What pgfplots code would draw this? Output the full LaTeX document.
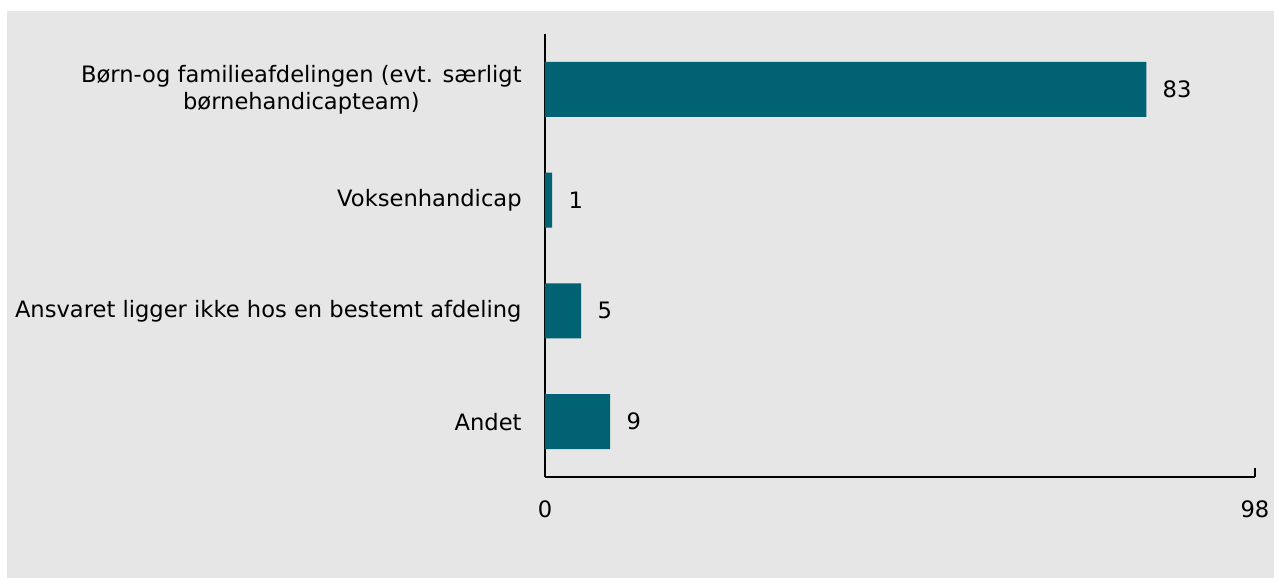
\documentclass[border=0pt]{standalone}
\usepackage{fontspec}
\setmainfont{DejaVu Sans}
\usepackage{pgfplots}
\pgfplotsset{compat=1.18}
\definecolor{barteal}{HTML}{006272}
\definecolor{bggray}{HTML}{E6E6E6}
\begin{document}
\fontsize{11.3pt}{13.5pt}\selectfont
\begin{tikzpicture}
\path[use as bounding box, fill=white] (-272.5pt,-50.5pt) rectangle (364.5pt,238.5pt);
\fill[bggray] (-269pt,-50.5pt) rectangle (364.5pt,233pt);
\begin{axis}[
  at={(0,0)}, anchor=south west,
  scale only axis,
  width=355pt, height=221.5pt,
  xbar,
  xmin=0, xmax=98,
  ymin=-0.5, ymax=3.5,
  bar width=27.5pt,
  axis x line*=bottom,
  axis y line*=left,
  axis line style={black, line width=0.6pt},
  xtick={0,98},
  ytick={0,1,2,3},
  yticklabels={Andet, Ansvaret ligger ikke hos en bestemt afdeling, Voksenhandicap, {Børn-og familieafdelingen (evt. særligt\\børnehandicapteam)}},
  y tick style={draw=none},
  x tick style={black, line width=0.6pt},
  tick align=inside,
  major tick length=4.5pt,
  yticklabel style={align=center, anchor=east, inner sep=0pt, xshift=-11.5pt, font=\fontsize{11.3pt}{13.5pt}\selectfont},
  xticklabel style={anchor=north, inner sep=0pt, yshift=-11.5pt, font=\fontsize{11.3pt}{13.5pt}\selectfont},
  /pgf/number format/assume math mode=true,
  nodes near coords,
  nodes near coords style={anchor=west, inner sep=0pt, xshift=8pt, font=\fontsize{11.3pt}{13.5pt}\selectfont, black},
  clip=false,
]
\addplot[fill=barteal, draw=none] coordinates {(9,0) (5,1) (1,2) (83,3)};
\end{axis}
\end{tikzpicture}
\end{document}
